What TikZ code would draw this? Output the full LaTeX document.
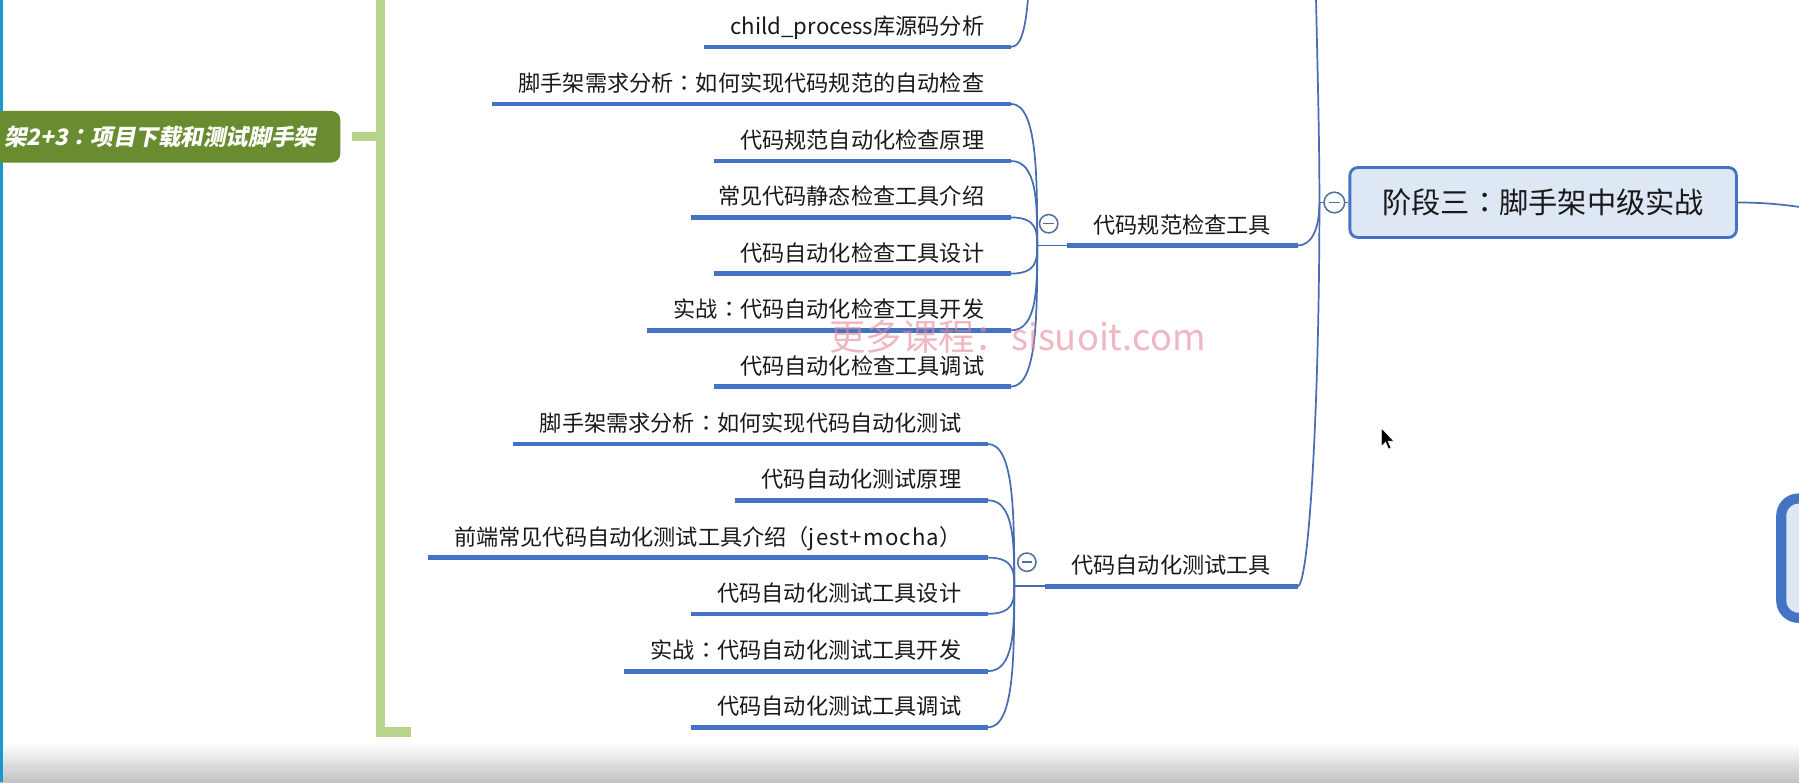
\documentclass[tikz,border=0pt]{standalone}
\usepackage{fontspec}
\setmainfont{Noto Sans CJK SC}
\newfontfamily\greenfont[FakeSlant=0.2]{Noto Sans CJK SC}
\newfontfamily\tcfont{Noto Sans CJK TC}
\newfontfamily\greentc[FakeSlant=0.2]{Noto Sans CJK TC}
\newcommand{\cc}{{\tcfont ：}}
\newcommand{\gcc}{{\greentc\bfseries ：}}
\usetikzlibrary{calc}
\definecolor{ulblue}{RGB}{68,114,196}
\definecolor{lnblue}{RGB}{70,108,178}
\definecolor{grnbox}{RGB}{106,140,48}
\definecolor{lgrn}{RGB}{184,211,140}
\definecolor{stfill}{RGB}{222,232,245}
\definecolor{cyanl}{RGB}{24,152,205}
\definecolor{wmk}{RGB}{228,135,152}
\definecolor{circ}{RGB}{82,110,160}
\definecolor{txt}{RGB}{25,25,25}
\begin{document}
\begin{tikzpicture}[x=0.02cm,y=-0.02cm,
  leaf/.style={anchor=south east,inner xsep=13pt,inner ysep=6pt,text depth=0pt,font=\fontsize{11}{13}\selectfont,text=txt},
  ul/.style={draw=ulblue,line width=2.3pt},
  conn/.style={draw=lnblue,line width=0.85pt},
  greenline/.style={draw=lgrn,line width=4.5pt},
  collapse/.style={circle,draw=circ,fill=white,line width=0.75pt,minimum size=0.32cm,inner sep=0pt,
     path picture={\draw[circ,line width=0.75pt] ($(path picture bounding box.center)+(-2.6pt,0)$) -- ($(path picture bounding box.center)+(2.6pt,0)$);}},
  stage/.style={draw=ulblue,line width=1.4pt,fill=stfill,rounded corners=0.14cm,minimum width=6.74cm,minimum height=1.22cm,font=\fontsize{14.5}{17}\selectfont,text=txt},
]
\useasboundingbox (0,0) rectangle (1568,682);
\clip (0,0) rectangle (1568,682);
\fill[white] (0,0) rectangle (1568,682);
\shade[top color=white,bottom color=black!24] (0,647) rectangle (1568,682);
\draw[cyanl,line width=1.4pt] (1.2,0) -- (1.2,682);

% green branch
\node[anchor=east,fill=grnbox,rounded corners=0.16cm,minimum height=0.9cm,text width=7cm,align=right,inner xsep=0.42cm,inner ysep=0pt,text=white,font=\greenfont\bfseries\fontsize{11.2}{13}\selectfont] (gb) at (297,119.2) {架2+3\gcc 项目下载和测试脚手架};
\coordinate (gs) at (307,119.2);
\coordinate (gtop) at (332,-10);
\coordinate (gfoot) at (358,638);
\draw[greenline] (gs) -- (gs -| gtop);
\draw[greenline,line join=miter] (gtop) -- (gtop |- gfoot) -- (gfoot);

% group 0 (top, partially visible)
\node[leaf] (c0) at (881,41) {child\_process库源码分析};
\draw[ul] (c0.south west) -- (c0.south east);
\coordinate (t0) at (899,-50);
\draw[conn] (c0.south east) .. controls (893,41) and (896,15) .. (t0);

% group 1
\coordinate (j1) at (904,214);
\node[leaf] (a1) at (881,90.5) {脚手架需求分析\cc 如何实现代码规范的自动检查};
\node[leaf] (a2) at (881,140.3) {代码规范自动化检查原理};
\node[leaf] (a3) at (881,189.5) {常见代码静态检查工具介绍};
\node[leaf] (a4) at (881,238.5) {代码自动化检查工具设计};
\node[leaf] (a5) at (881,288) {实战\cc 代码自动化检查工具开发};
\node[leaf] (a6) at (881,337) {代码自动化检查工具调试};
\foreach \n in {a1,a2,a3,a4,a5,a6}{
  \draw[ul] (\n.south west) -- (\n.south east);
  \draw[conn] (\n.south east) .. controls (\n.south east -| j1) and ($(j1)!0.5!(\n.south east -| j1)$) .. (j1);
}
\node[leaf] (p1) at (1131,214) {代码规范检查工具};
\draw[ul] (p1.south west) -- (p1.south east);
\draw[conn] (j1) -- (p1.south west);
\node[collapse] (m1) at (914,195) {};

% group 2
\coordinate (j2) at (884,511);
\node[leaf] (b1) at (861,387) {脚手架需求分析\cc 如何实现代码自动化测试};
\node[leaf] (b2) at (861,436) {代码自动化测试原理};
\node[leaf] (b3) at (861,486) {前端常见代码自动化测试工具介绍{\tcfont （}{\addfontfeature{LetterSpace=5}jest+mocha}{\tcfont ）}};
\node[leaf] (b4) at (861,535) {代码自动化测试工具设计};
\node[leaf] (b5) at (861,585) {实战\cc 代码自动化测试工具开发};
\node[leaf] (b6) at (861,634) {代码自动化测试工具调试};
\foreach \n in {b1,b2,b3,b4,b5,b6}{
  \draw[ul] (\n.south west) -- (\n.south east);
  \draw[conn] (\n.south east) .. controls (\n.south east -| j2) and ($(j2)!0.5!(\n.south east -| j2)$) .. (j2);
}
\node[leaf] (p2) at (1131,511) {代码自动化测试工具};
\draw[ul] (p2.south west) -- (p2.south east);
\draw[conn] (j2) -- (p2.south west);
\node[collapse] (m2) at (895,490) {};

% stage node
\node[stage] (st) at (1345,176.5) {阶段三\cc 脚手架中级实战};
\coordinate (J) at (1150,176.5);
\coordinate (tJ) at (1146,-60);
\draw[conn] (J) -- (st.west);
\draw[conn] (p1.south east) .. controls (1143,214) and (1150,200) .. (J);
\draw[conn] (J) .. controls (1150,350) and (1141,511) .. (p2.south east);
\draw[conn] (J) .. controls (1150,100) and (1147,20) .. (tJ);
\node[collapse,minimum size=0.36cm] (m0) at (1163,176.5) {};

% right side
\coordinate (rx) at (1650,200);
\draw[conn] (st.east) .. controls (1550,176.5) and (1590,181) .. (rx);
\draw[ulblue,line width=5pt,fill=stfill,rounded corners=0.3cm] (1552.5,434.5) rectangle (1720,538.5);

% watermark
\node[text=wmk,text opacity=0.6,font=\fontsize{18}{20}\selectfont,inner sep=0pt] (wm) at (887,293.4) {更多课程：sisuoit.com};

% mouse pointer
\filldraw[fill=black,draw=white,line width=0.3pt] (1204,373) -- ++(0,16) -- ++(3.6,-3.6) -- ++(2.6,6) -- ++(2.2,-1) -- ++(-2.5,-5.8) -- ++(5,0) -- cycle;
\end{tikzpicture}
\end{document}
